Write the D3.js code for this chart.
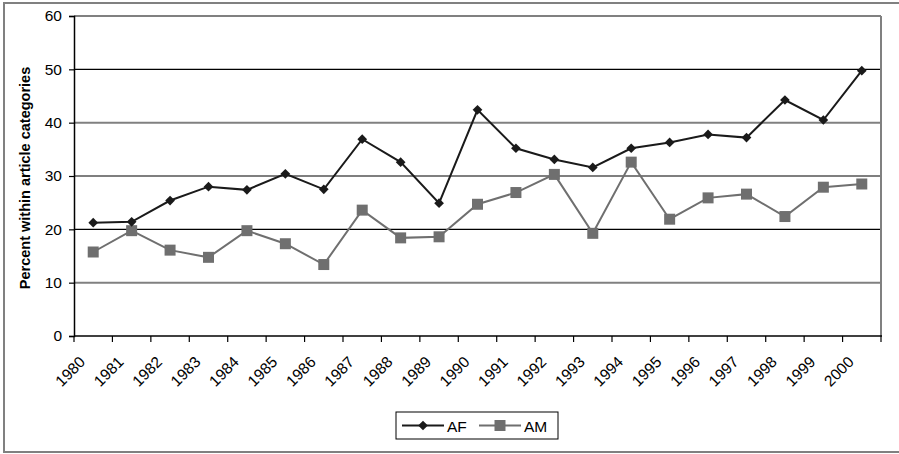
<!DOCTYPE html>
<html><head><meta charset="utf-8">
<script src="https://cdn.jsdelivr.net/npm/d3@7/dist/d3.min.js"></script>
<style>body{margin:0;background:#fff}svg{display:block;font-family:"Liberation Sans",Arial,sans-serif}</style>
</head><body>
<svg id="c" width="899" height="454"></svg>
<script>
const years = ["1980","1981","1982","1983","1984","1985","1986","1987","1988","1989","1990","1991","1992","1993","1994","1995","1996","1997","1998","1999","2000"];
const afValues = [21.25,21.4,25.4,28.0,27.4,30.4,27.5,36.9,32.6,24.9,42.4,35.2,33.1,31.6,35.2,36.3,37.8,37.2,44.25,40.5,49.75];
const amValues = [15.75,19.75,16.1,14.75,19.75,17.3,13.4,23.6,18.4,18.6,24.7,26.9,30.3,19.25,32.6,21.9,25.9,26.6,22.4,27.9,28.5];
const yTicks = [0,10,20,30,40,50,60];
const seriesNames = ["AF","AM"];

const svg = d3.select("#c");
const L = 74, R = 881, T = 16, B = 336;
const x = d3.scaleBand().domain(years).range([L, R]);
const y = d3.scaleLinear().domain([0, 60]).range([B, T]);

// outer frame
svg.append("rect").attr("x",4).attr("y",3).attr("width",1000).attr("height",449)
  .attr("fill","none").attr("stroke","#808080").attr("stroke-width",2);

// gridlines
const gridStyle = {10:["#808080",2],20:["#000",1.2],30:["#000",1.2],40:["#808080",2],50:["#000",1.2],60:["#808080",2]};
svg.append("g").selectAll("line").data(yTicks.filter(d=>d>0)).join("line")
  .attr("x1",L).attr("x2",R).attr("y1",d=>y(d)).attr("y2",d=>y(d))
  .attr("stroke",d=>gridStyle[d][0]).attr("stroke-width",d=>gridStyle[d][1]);
// plot right border
svg.append("line").attr("x1",R).attr("x2",R).attr("y1",T).attr("y2",B)
  .attr("stroke","#808080").attr("stroke-width",2);

// y axis
const yAxis = svg.append("g").attr("transform",`translate(${L},0)`)
  .call(d3.axisLeft(y).tickValues(yTicks).tickSize(5).tickPadding(7));
yAxis.select(".domain").attr("stroke","#000").attr("stroke-width",1.5);
yAxis.selectAll(".tick line").attr("stroke","#000").attr("stroke-width",1.2);
yAxis.selectAll("text").attr("font-size",15.5).attr("fill","#000")
  .attr("font-family","Liberation Sans, Arial, sans-serif");

// x axis line and ticks
svg.append("line").attr("x1",L).attr("x2",R+1).attr("y1",B).attr("y2",B)
  .attr("stroke","#000").attr("stroke-width",1.5);
const bounds = years.map(d=>x(d)).concat([R]);
svg.append("g").selectAll("line").data(bounds).join("line")
  .attr("x1",d=>d).attr("x2",d=>d).attr("y1",B).attr("y2",B+6)
  .attr("stroke","#000").attr("stroke-width",1.2);
const cx = d => x(d) + x.bandwidth()/2;
svg.append("g").selectAll("text").data(years).join("text")
  .attr("transform",d=>`translate(${cx(d)-7},${B+27}) rotate(-45)`)
  .attr("text-anchor","end").attr("font-size",15.5).attr("fill","#000")
  .text(d=>d);

// y axis title
svg.append("text").attr("transform",`translate(25,${(T+B)/2+2}) rotate(-90)`)
  .attr("text-anchor","middle").attr("dy","0.35em").attr("font-size",14.5).attr("font-weight","bold")
  .text("Percent within article categories");

// lines
const colAF = "#1a1a1a", colAM = "#6f6f6f";
const line = d3.line().x((d,i)=>cx(years[i])).y(d=>y(d));
svg.append("path").datum(amValues).attr("d",line).attr("fill","none").attr("stroke",colAM).attr("stroke-width",2);
svg.append("path").datum(afValues).attr("d",line).attr("fill","none").attr("stroke",colAF).attr("stroke-width",2);

const diamond = d3.symbol().type(d3.symbolDiamond2).size(60);
const square = d3.symbol().type(d3.symbolSquare).size(121);
svg.append("g").selectAll("path").data(amValues).join("path")
  .attr("d",square).attr("transform",(d,i)=>`translate(${cx(years[i])},${y(d)})`).attr("fill",colAM);
svg.append("g").selectAll("path").data(afValues).join("path")
  .attr("d",diamond).attr("transform",(d,i)=>`translate(${cx(years[i])},${y(d)})`).attr("fill",colAF);

// legend
const lg = svg.append("g");
lg.append("rect").attr("x",396).attr("y",412).attr("width",162).attr("height",27)
  .attr("fill","#fff").attr("stroke","#000").attr("stroke-width",1);
const items = [{name:seriesNames[0],x0:402,col:colAF,sym:diamond},{name:seriesNames[1],x0:479,col:colAM,sym:square}];
items.forEach(it=>{
  lg.append("line").attr("x1",it.x0).attr("x2",it.x0+42).attr("y1",425.5).attr("y2",425.5)
    .attr("stroke",it.col).attr("stroke-width",2);
  lg.append("path").attr("d",it.sym).attr("transform",`translate(${it.x0+21},425.5)`).attr("fill",it.col);
  lg.append("text").attr("x",it.x0+45).attr("y",426).attr("dy","0.36em").attr("font-size",15.5).text(it.name);
});
</script>
</body></html>
